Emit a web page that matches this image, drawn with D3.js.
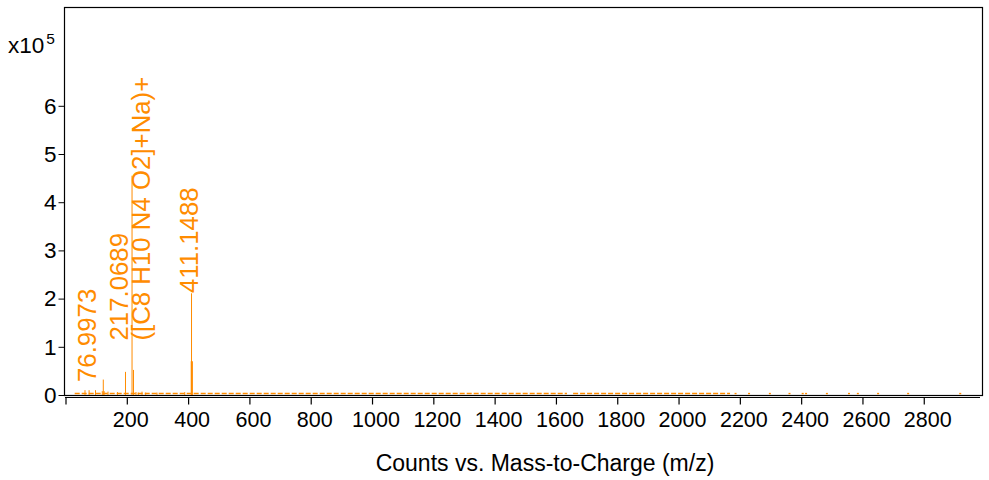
<!DOCTYPE html>
<html>
<head>
<meta charset="utf-8">
<script src="https://cdn.jsdelivr.net/npm/d3@7"></script>
<style>
  html, body { margin: 0; padding: 0; background: #fff; }
  svg { display: block; font-family: "Liberation Sans", Arial, sans-serif; }
</style>
</head>
<body>
<svg id="chart" width="989" height="480"></svg>
<script>
// ---- data (m/z, counts) ----
const peakMz     = [63.6, 76.9973, 97.9, 120, 123.3, 126, 138.7, 169.6, 195.7, 217.0689, 221.8, 230, 237.5, 249.6, 261.6, 298.5, 389, 411.1488, 412.1];
const peakCounts = [10000, 10000, 10000, 8000, 32000, 8000, 7000, 6000, 48000, 455000, 52000, 6000, 5000, 7000, 5000, 5000, 6000, 211000, 70000];
const peakWide   = [412.1];
// baseline noise (dense tiny peaks) as m/z ranges, plus isolated tiny peaks
const noiseRanges = [[30, 1636], [1656, 2168]];
const noiseDots   = [2186, 2230, 2298, 2362, 2405, 2416, 2484, 2556, 2585, 2651, 2749, 2919];
const noiseLevel  = 3000;
// annotations
const labelMz    = [76.9973, 217.0689, 411.1488];
const labelAt    = [27000, 113000, 211500];
const labelLines = [["76.9973"], ["217.0689", "([C8 H10 N4 O2]+Na)+"], ["411.1488"]];
// axes
const xTicks = [0, 200, 400, 600, 800, 1000, 1200, 1400, 1600, 1800, 2000, 2200, 2400, 2600, 2800];
const yTicks = [0, 1, 2, 3, 4, 5, 6];
const yExp = 5;
const xTitle = "Counts vs. Mass-to-Charge (m/z)";

const orange = "#FF8C00";
const svg = d3.select("#chart");

const x = d3.scaleLinear().domain([0, 2990]).range([65.5, 982]);
const y = d3.scaleLinear().domain([0, 805000]).range([395, 7]);

// frame
svg.append("rect").attr("x", 64.5).attr("y", 7.5).attr("width", 918).attr("height", 388)
  .attr("fill", "none").attr("stroke", "#000").attr("stroke-width", 1.2);

// y axis
const yAxis = d3.axisLeft(y).tickValues(yTicks.map(v => v * Math.pow(10, yExp)))
  .tickFormat(v => String(v / Math.pow(10, yExp))).tickSize(6).tickPadding(2);
const gy = svg.append("g").attr("transform", "translate(64.5,0)").call(yAxis);
gy.select(".domain").remove();
gy.selectAll("text").attr("font-size", 22.5).attr("fill", "#000").attr("font-family", "Liberation Sans, Arial, sans-serif");
gy.selectAll("line").attr("stroke", "#000");

// x axis (separate line below frame)
const xAxis = d3.axisBottom(x).tickValues(xTicks).tickFormat(v => v === 0 ? "" : String(v))
  .tickSize(7).tickSizeOuter(0).tickPadding(7);
const gx = svg.append("g").attr("transform", "translate(0,397.5)").call(xAxis);
gx.select(".domain").attr("d", "M65,0H980").attr("stroke", "#000").attr("stroke-width", 1.2);
gx.selectAll("line").attr("stroke", "#000").attr("stroke-width", 1.2);
gx.selectAll("text").attr("font-size", 21.5).attr("dx", 3.5).attr("fill", "#000").attr("font-family", "Liberation Sans, Arial, sans-serif");

// exponent label
const ex = svg.append("text").attr("x", 8).attr("y", 53).attr("font-size", 22.5).attr("fill", "#000");
ex.append("tspan").text("x10");
ex.append("tspan").attr("dy", -9).attr("font-size", 15.5).attr("dx", 2).text(String(yExp));

// x title
svg.append("text").attr("x", 545).attr("y", 471).attr("text-anchor", "middle")
  .attr("font-size", 23).attr("fill", "#000").text(xTitle);

// noise baseline
const plot = svg.append("g");
plot.selectAll("line.noise").data(noiseRanges).join("line").attr("class", "noise")
  .attr("x1", d => x(d[0])).attr("x2", d => x(d[1]))
  .attr("y1", y(noiseLevel)).attr("y2", y(noiseLevel))
  .attr("stroke", orange).attr("stroke-width", 1.4).attr("stroke-dasharray", "5,2");
plot.selectAll("line.dot").data(noiseDots).join("line").attr("class", "dot")
  .attr("x1", d => x(d) - 1).attr("x2", d => x(d) + 1)
  .attr("y1", y(noiseLevel)).attr("y2", y(noiseLevel))
  .attr("stroke", orange).attr("stroke-width", 1.4);

// peaks
plot.selectAll("line.peak").data(peakMz.map((m, i) => ({ m, c: peakCounts[i] }))).join("line")
  .attr("class", "peak")
  .attr("x1", d => x(d.m)).attr("x2", d => x(d.m))
  .attr("y1", y(0)).attr("y2", d => y(d.c))
  .attr("stroke", orange)
  .attr("stroke-width", d => peakWide.includes(d.m) ? 2.2 : 1);

// annotations
const fs = 25.8, capH = 0.716 * fs, gap = 22.5;
labelMz.forEach((m, i) => {
  const lines = labelLines[i];
  const n = lines.length;
  const g = svg.append("g").attr("transform", `translate(${x(m)},${y(labelAt[i])}) rotate(-90)`);
  const t = g.append("text").attr("font-size", fs).attr("fill", orange).attr("text-anchor", "start");
  const b1 = -2.5 - (n - 1) * gap / 2 + capH / 2;
  lines.forEach((s, k) => {
    t.append("tspan").attr("x", 0).attr("y", b1 + k * gap).text(s);
  });
});
</script>
</body>
</html>
